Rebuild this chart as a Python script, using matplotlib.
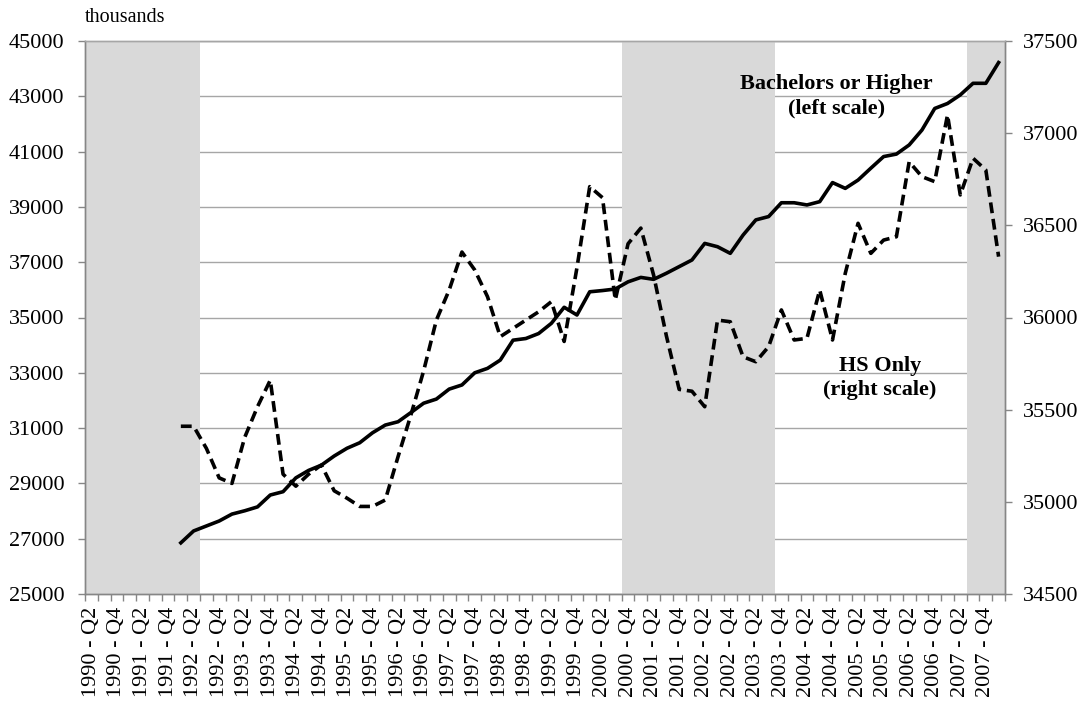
import numpy as np
import matplotlib.pyplot as plt

plt.rcParams['font.family'] = ['Liberation Serif', 'DejaVu Serif']

# quarters 1990-Q2 .. 2008-Q1
quarters = [f"{1990 + (q + 1) // 4} - Q{(q + 1) % 4 + 1}" for q in range(72)]

nan = np.nan
# Bachelors or Higher, thousands (left scale), starts 1992-Q1
bachelors = [nan] * 7 + [
    26850, 27280, 27460, 27640, 27890, 28010, 28150, 28580, 28700, 29200,
    29470, 29660, 29990, 30270, 30470, 30830, 31110, 31230, 31560, 31900,
    32050, 32410, 32560, 33000, 33160, 33460, 34180, 34240, 34420, 34790,
    35370, 35090, 35930, 35975, 36030, 36290, 36450, 36380, 36600, 36840,
    37080, 37680, 37560, 37320, 37980, 38530, 38650, 39150, 39150, 39070,
    39190, 39880, 39670, 39970, 40400, 40820, 40910, 41240, 41780, 42560,
    42740, 43050, 43470, 43470, 44220]

# HS Only, thousands (right scale)
hs_only = [nan] * 7 + [
    35410, 35410, 35290, 35130, 35100, 35350, 35516, 35660, 35150, 35085,
    35150, 35200, 35060, 35020, 34975, 34975, 35010, 35245, 35470, 35710,
    35986, 36149, 36355, 36258, 36113, 35896, 35941, 35986, 36031, 36086,
    35870, 36270, 36710, 36650, 36095, 36400, 36485, 36230, 35900, 35610,
    35600, 35516, 35986, 35977, 35787, 35760, 35842, 36041, 35878, 35887,
    36149, 35878, 36240, 36511, 36348, 36420, 36438, 36845, 36764, 36737,
    37099, 36665, 36864, 36800, 36330]

# shaded periods (first and last quarter)
shaded = [("1990 - Q2", "1992 - Q2"),
          ("2000 - Q4", "2003 - Q3"),
          ("2007 - Q3", "2008 - Q1")]

axis_col = '#868686'
x = np.arange(len(quarters))

fig = plt.figure(figsize=(10.88, 7.07), dpi=100)
ax = fig.add_axes([85 / 1088, 113 / 707, 920 / 1088, 553 / 707])
ax2 = ax.twinx()

for a, b in shaded:
    ax.axvspan(quarters.index(a) - 0.5, quarters.index(b) + 0.5,
               color='#d9d9d9', lw=0, zorder=1)

ax.plot(x, bachelors, color='black', lw=2.6, zorder=3,
        solid_joinstyle='round')
ax2.plot(x, hs_only, color='black', lw=2.6, dashes=(3.0, 1.6))

ax.set_xlim(-0.5, len(quarters) - 0.5)
ax.set_ylim(25000, 45000)
ax2.set_ylim(34500, 37500)
ax.set_yticks(range(25000, 45001, 2000))
ax2.set_yticks(range(34500, 37501, 500))

ax.set_xticks(x[::2])
ax.set_xticklabels(quarters[::2], rotation=90)
ax.set_xticks(np.arange(-0.5, len(quarters), 1), minor=True)
ax.tick_params(axis='x', which='major', length=0, pad=9, labelsize=16)
ax.tick_params(axis='x', which='minor', length=5, width=1, color=axis_col)
ax.tick_params(axis='y', length=5, width=1, color=axis_col, pad=10,
               labelsize=16)
ax2.tick_params(axis='y', length=5, width=1, color=axis_col, pad=8,
                labelsize=16)

ax.yaxis.grid(True, color='#a6a6a6', lw=1)
ax.set_axisbelow(True)

for a in (ax, ax2):
    for s in a.spines.values():
        s.set_color(axis_col)
        s.set_linewidth(1)
    a.spines['top'].set_color('#a6a6a6')

ax.text(58.3, 43000, 'Bachelors or Higher\n(left scale)', ha='center',
        va='center', fontsize=16, fontweight='bold', linespacing=1.25,
        zorder=4)
ax.text(61.7, 32800, 'HS Only\n(right scale)', ha='center', va='center',
        fontsize=16, fontweight='bold', linespacing=1.25, zorder=4)

fig.text(85 / 1088, 1 - 17 / 707, 'thousands', ha='left', va='center',
         fontsize=14.5)

fig.savefig('out.png', dpi=100)
